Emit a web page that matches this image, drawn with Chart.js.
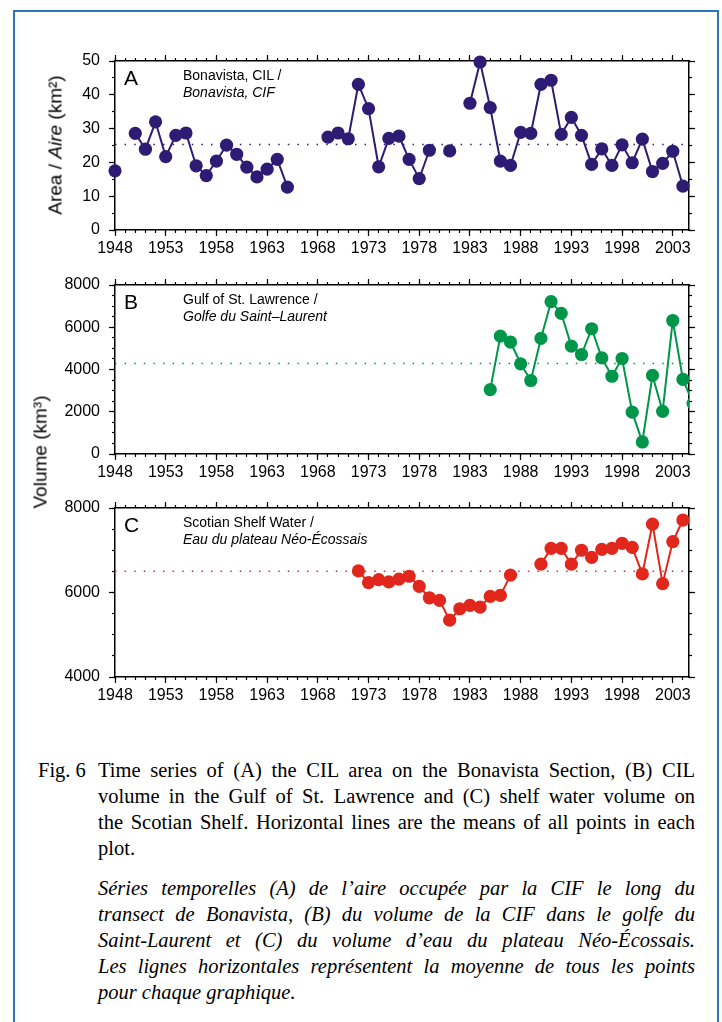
<!DOCTYPE html>
<html>
<head>
<meta charset="utf-8">
<title>Fig. 6 – CIL time series</title>
<script src="https://cdn.jsdelivr.net/npm/chart.js@4.4.1/dist/chart.umd.min.js"></script>
<style>
    html, body { margin: 0; padding: 0; background: #fff; }
    body {
        width: 722px; height: 1022px; position: relative; overflow: hidden;
        font-family: "Liberation Sans", Arial, Helvetica, sans-serif; color: #000;
    }
    .frame {
        position: absolute; left: 13px; top: 10px; width: 702px; height: 1100px;
        border: 2px solid #2a78b8;
    }
    canvas { position: absolute; left: 0; }
    .panel-letter { position: absolute; left: 124px; font-size: 21px; line-height: 1; }
    .panel-name { position: absolute; left: 183px; font-size: 14px; line-height: 16.5px; white-space: nowrap; }
    .ytitle {
        position: absolute; font-size: 19px; line-height: 1; white-space: nowrap;
        transform: translate(-50%, -50%) rotate(-90deg);
    }
    .caption {
        position: absolute; left: 98px; width: 597px;
        font-family: "Liberation Serif", "Times New Roman", serif; font-size: 20.5px; line-height: 26px;
    }
    .caption div { text-align: justify; text-align-last: justify; }
    .caption div.last { text-align: left; text-align-last: left; }
    .fig-no {
        position: absolute; left: 38px;
        font-family: "Liberation Serif", "Times New Roman", serif; font-size: 20.5px; line-height: 26px;
    }
</style>
</head>
<body>
<div class="frame"></div>

<canvas id="chartA" width="722" height="240" style="top:30px"></canvas>
<canvas id="chartB" width="722" height="240" style="top:254px"></canvas>
<canvas id="chartC" width="722" height="240" style="top:477px"></canvas>

<div class="ytitle" style="left:55px; top:145px">Area / <i>Aire</i> (km²)</div>
<div class="ytitle" style="left:40px; top:452px">Volume (km³)</div>

<div class="panel-letter" style="top:67px">A</div>
<div class="panel-name" style="top:67px">Bonavista, CIL /<br><i>Bonavista, CIF</i></div>
<div class="panel-letter" style="top:291px">B</div>
<div class="panel-name" style="top:291px">Gulf of St. Lawrence /<br><i>Golfe du Saint–Laurent</i></div>
<div class="panel-letter" style="top:514px">C</div>
<div class="panel-name" style="top:514px">Scotian Shelf Water /<br><i>Eau du plateau Néo-Écossais</i></div>

<div class="fig-no" style="top:757px">Fig. 6</div>
<div class="caption" style="top:757px">
    <div>Time series of (A) the CIL area on the Bonavista Section, (B) CIL</div>
    <div>volume in the Gulf of St. Lawrence and (C) shelf water volume on</div>
    <div>the Scotian Shelf. Horizontal lines are the means of all points in each</div>
    <div class="last">plot.</div>
</div>
<div class="caption" style="top:875px; font-style:italic">
    <div>Séries temporelles (A) de l’aire occupée par la CIF le long du</div>
    <div>transect de Bonavista, (B) du volume de la CIF dans le golfe du</div>
    <div>Saint-Laurent et (C) du volume d’eau du plateau Néo-Écossais.</div>
    <div>Les lignes horizontales représentent la moyenne de tous les points</div>
    <div class="last">pour chaque graphique.</div>
</div>

<script>
// Panel A: CIL cross-sectional area on the Bonavista Section (km²), null = no survey
const yearsA = [1948, 1949, 1950, 1951, 1952, 1953, 1954, 1955, 1956, 1957,
                1958, 1959, 1960, 1961, 1962, 1963, 1964, 1965, 1966, 1967,
                1968, 1969, 1970, 1971, 1972, 1973, 1974, 1975, 1976, 1977,
                1978, 1979, 1980, 1981, 1982, 1983, 1984, 1985, 1986, 1987,
                1988, 1989, 1990, 1991, 1992, 1993, 1994, 1995, 1996, 1997,
                1998, 1999, 2000, 2001, 2002, 2003, 2004];
const areaA = [17.5, null, 28.6, 23.9, 32.0, 21.7, 28.0, 28.7, 19.0, 16.1,
               20.4, 25.1, 22.4, 18.6, 15.7, 18.0, 20.9, 12.7, null, null,
               null, 27.5, 28.7, 27.0, 43.1, 35.9, 18.7, 27.1, 27.8, 20.9,
               15.2, 23.6, null, 23.4, null, 37.5, 49.7, 36.2, 20.4, 19.1,
               28.9, 28.6, 43.1, 44.3, 28.3, 33.3, 28.0, 19.4, 24.0, 19.1,
               25.2, 19.9, 26.9, 17.3, 19.7, 23.3, 13.0];
const meanA = 25.3;

// Panel B: CIL volume in the Gulf of St. Lawrence (km³)
const yearsB = [1985, 1986, 1987, 1988, 1989, 1990, 1991, 1992, 1993, 1994,
                1995, 1996, 1997, 1998, 1999, 2000, 2001, 2002, 2003, 2004, 2005];
const volumeB = [3050, 5580, 5300, 4270, 3480, 5470, 7210, 6660, 5110, 4710,
                 5930, 4550, 3680, 4520, 1980, 570, 3720, 2020, 6320, 3530, 2400];
const meanB = 4285;

// Panel C: shelf water volume on the Scotian Shelf (km³)
const yearsC = [1972, 1973, 1974, 1975, 1976, 1977, 1978, 1979, 1980, 1981,
                1982, 1983, 1984, 1985, 1986, 1987, 1988, 1989, 1990, 1991,
                1992, 1993, 1994, 1995, 1996, 1997, 1998, 1999, 2000, 2001,
                2002, 2003, 2004];
const volumeC = [6510, 6235, 6305, 6250, 6315, 6385, 6145, 5875, 5815, 5345,
                 5615, 5695, 5655, 5910, 5930, 6410, null, null, 6670, 7045,
                 7045, 6670, 7000, 6830, 7020, 7045, 7165, 7070, 6440, 7620,
                 6210, 7205, 7715];
const meanC = 6505;

// Axis ticks
const xTickYears = [1948, 1953, 1958, 1963, 1968, 1973, 1978, 1983, 1988, 1993, 1998, 2003];
const yTicksA = [0, 10, 20, 30, 40, 50];
const yTicksB = [0, 2000, 4000, 6000, 8000];
const yTicksC = [4000, 6000, 8000];

const X_MIN = 1948;
const X_MAX = 2004.6;

const TICK_FONT = { family: '"Liberation Sans", Arial, Helvetica, sans-serif', size: 16 };

function fixedSize(size) {
    return scale => {
        if (scale.isHorizontal()) scale.height = size;
        else scale.width = size;
    };
}

function evenTicks(min, max, step) {
    const out = [];
    for (let v = min; v <= max + 1e-9; v += step) out.push({ value: v });
    return out;
}

// Labelled axis with long tick marks; it sits outside the short-tick axis
function majorAxis(axis, position, min, max, tickValues, showLabels, size) {
    return {
        type: 'linear', axis, position, min, max, weight: 1,
        afterFit: fixedSize(size),
        afterBuildTicks: scale => { scale.ticks = tickValues.map(v => ({ value: v })); },
        grid: { drawOnChartArea: false, drawTicks: true, tickLength: 6, tickColor: '#000', tickWidth: 1.2 },
        border: { display: true, color: '#000', width: 1.5 },
        ticks: {
            display: showLabels, font: TICK_FONT, color: '#000',
            padding: axis === 'x' ? 3 : 9, autoSkip: false, maxRotation: 0,
            callback: v => String(v)
        }
    };
}

// Zero-width axis carrying the short in-between tick marks
function minorAxis(axis, position, min, max, step) {
    return {
        type: 'linear', axis, position, min, max, weight: 0,
        afterFit: fixedSize(0),
        afterBuildTicks: scale => { scale.ticks = evenTicks(min, max, step); },
        grid: { drawOnChartArea: false, drawTicks: true, tickLength: 3, tickColor: '#000', tickWidth: 1.2 },
        border: { display: false },
        ticks: { display: false, autoSkip: false }
    };
}

function renderPanel(canvasId, years, values, mean, color, yMin, yMax, yTicks, yMinorStep, clip) {
    const ctx = document.getElementById(canvasId).getContext('2d');
    const points = years.map((yr, i) => ({ x: yr, y: values[i] }));

    return new Chart(ctx, {
        type: 'line',
        data: {
            datasets: [
                {
                    data: points,
                    borderColor: color,
                    backgroundColor: color,
                    borderWidth: 2,
                    pointRadius: 6.6,
                    pointBackgroundColor: color,
                    pointBorderColor: color,
                    pointBorderWidth: 0,
                    spanGaps: false,
                    tension: 0,
                    clip: clip,
                    xAxisID: 'x', yAxisID: 'y'
                },
                {
                    // dotted mean line across the whole period
                    data: [{ x: X_MIN, y: mean }, { x: X_MAX, y: mean }],
                    borderColor: color,
                    borderWidth: 1.5,
                    borderDash: [1.5, 8.1],
                    pointRadius: 0,
                    xAxisID: 'x', yAxisID: 'y'
                }
            ]
        },
        options: {
            responsive: false,
            devicePixelRatio: 1,
            animation: false,
            events: [],
            layout: { padding: 0, autoPadding: false },
            plugins: { legend: { display: false }, tooltip: { enabled: false } },
            scales: {
                x: majorAxis('x', 'bottom', X_MIN, X_MAX, xTickYears, true, 40),
                xMinor: minorAxis('x', 'bottom', X_MIN, X_MAX, 1),
                xTop: majorAxis('x', 'top', X_MIN, X_MAX, xTickYears, false, 31),
                xTopMinor: minorAxis('x', 'top', X_MIN, X_MAX, 1),
                y: majorAxis('y', 'left', yMin, yMax, yTicks, true, 115),
                yMinor: minorAxis('y', 'left', yMin, yMax, yMinorStep),
                yRight: majorAxis('y', 'right', yMin, yMax, yTicks, false, 33),
                yRightMinor: minorAxis('y', 'right', yMin, yMax, yMinorStep)
            }
        }
    });
}

document.addEventListener('DOMContentLoaded', () => {
    if (typeof Chart === 'undefined') {
        console.error('Chart.js is not loaded');
        return;
    }
    renderPanel('chartA', yearsA, areaA, meanA, '#2e1b74', 0, 50, yTicksA, 5, false);
    renderPanel('chartB', yearsB, volumeB, meanB, '#00964a', 0, 8000, yTicksB, 500,
                { left: 10, top: 10, right: 0, bottom: 10 });
    renderPanel('chartC', yearsC, volumeC, meanC, '#e1271c', 4000, 8000, yTicksC, 500, false);
});
</script>
</body>
</html>
